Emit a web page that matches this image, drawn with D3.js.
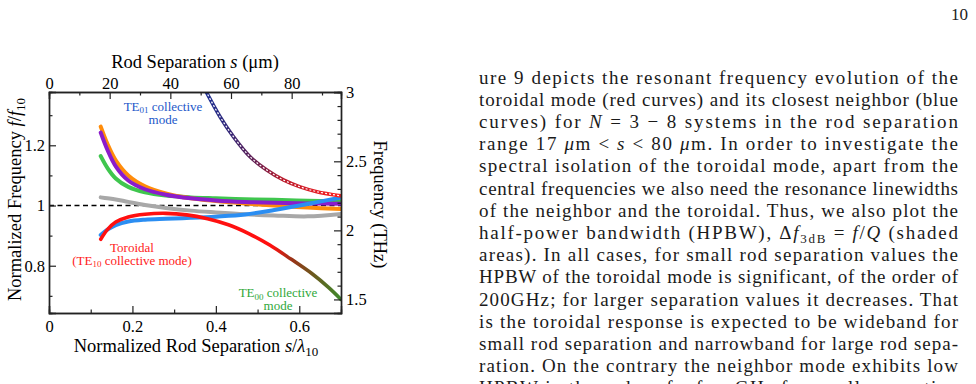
<!DOCTYPE html>
<html>
<head>
<meta charset="utf-8">
<script src="https://cdn.jsdelivr.net/npm/d3@7"></script>
<style>
  body { margin: 0; background: #fff; }
  svg text { font-family: "Liberation Serif", "Times New Roman", serif; }
</style>
</head>
<body>
<svg id="page" width="976" height="384"></svg>
<script>
// normalized rod separation s/lambda10 where the N = 3..8 curves were read
var sepBundle = [0.124, 0.14, 0.16, 0.19, 0.23, 0.28, 0.34, 0.40, 0.47, 0.54, 0.62, 0.70]
var freqOrange = [1.262, 1.205, 1.150, 1.100, 1.064, 1.040, 1.024, 1.015, 1.007, 1.000, 0.993, 0.988]
var freqPurple = [1.242, 1.185, 1.130, 1.083, 1.054, 1.036, 1.024, 1.017, 1.012, 1.009, 1.007, 1.006]
var freqGreen  = [1.164, 1.125, 1.090, 1.062, 1.044, 1.033, 1.027, 1.024, 1.021, 1.019, 1.016, 1.014]
var freqGray   = [1.027, 1.024, 1.020, 1.012, 1.002, 0.992, 0.983, 0.977, 0.971, 0.967, 0.964, 0.972]
var freqBlue   = [0.902, 0.920, 0.935, 0.947, 0.953, 0.956, 0.959, 0.963, 0.970, 0.985, 1.005, 1.027]

// toroidal (TE10) mode, turning into TE00 at large separation
var sepToroidal  = [0.124, 0.14, 0.16, 0.19, 0.23, 0.28, 0.33, 0.38, 0.43, 0.48, 0.53, 0.58, 0.63, 0.67, 0.70]
var freqToroidal = [0.888, 0.920, 0.945, 0.962, 0.971, 0.974, 0.969, 0.956, 0.936, 0.906, 0.868, 0.822, 0.774, 0.728, 0.688]

// TE01 collective mode (dashed)
var sepTE01  = [0.376, 0.41, 0.442, 0.482, 0.522, 0.562, 0.602, 0.642, 0.70]
var freqTE01 = [1.380, 1.295, 1.229, 1.162, 1.118, 1.085, 1.062, 1.046, 1.032]

var f10 = 2.18                // THz
var lambda10 = 299.79 / f10   // um

var topTicks = [0, 20, 40, 60, 80]
var topMinor = [10, 30, 50, 70, 90]
var bottomTicks = [0, 0.2, 0.4, 0.6]
var bottomMinor = [0.1, 0.3, 0.5]
var leftTicks = [0.8, 1, 1.2]
var leftMinor = [0.7, 0.9, 1.1, 1.3]
var rightTicks = [1.5, 2, 2.5, 3]
var rightMinor = [1.6, 1.7, 1.8, 1.9, 2.1, 2.2, 2.3, 2.4, 2.6, 2.7, 2.8, 2.9]

var bodyLines = [
  ['ure 9 depicts the resonant frequency evolution of the'],
  ['toroidal mode (red curves) and its closest neighbor (blue'],
  ['curves) for ', ['N', 'i'], ' = 3 \u2212 8 systems in the rod separation'],
  ['range 17 ', ['\u03bc', 'i'], 'm < ', ['s', 'i'], ' < 80 ', ['\u03bc', 'i'], 'm. In order to investigate the'],
  ['spectral isolation of the toroidal mode, apart from the'],
  ['central frequencies we also need the resonance linewidths'],
  ['of the neighbor and the toroidal. Thus, we also plot the'],
  ['half-power bandwidth (HPBW), \u0394', ['f', 'i'], ['3dB', 'sub'], ' = ', ['f', 'i'], '/', ['Q', 'i'], ' (shaded'],
  ['areas). In all cases, for small rod separation values the'],
  ['HPBW of the toroidal mode is significant, of the order of'],
  ['200GHz; for larger separation values it decreases. That'],
  ['is the toroidal response is expected to be wideband for'],
  ['small rod separation and narrowband for large rod sepa-'],
  ['ration. On the contrary the neighbor mode exhibits low'],
  ['HPBW in the order of a few GHz for small separation']
]

var serif = '"Liberation Serif", "Times New Roman", serif'

var svg = d3.select('#page')
svg.append('rect').attr('width', 976).attr('height', 384).attr('fill', '#fff')

var margin = { left: 49, right: 341, top: 92, bottom: 313 }

var x = d3.scaleLinear().domain([0, 0.7]).range([margin.left, margin.right])
var xTop = d3.scaleLinear().domain([0, 0.7 * lambda10]).range([margin.left, margin.right])
var y = d3.scaleLinear().domain([0.643, 1.377]).range([margin.bottom, margin.top])
var yRight = d3.scaleLinear().domain([0.643 * f10, 1.377 * f10]).range([margin.bottom, margin.top])

var defs = svg.append('defs')
defs.append('clipPath').attr('id', 'plotClip')
  .append('rect')
  .attr('x', margin.left).attr('y', margin.top)
  .attr('width', margin.right - margin.left).attr('height', margin.bottom - margin.top)

function gradient(id, stops) {
  var g = defs.append('linearGradient').attr('id', id)
    .attr('gradientUnits', 'userSpaceOnUse')
    .attr('x1', margin.left).attr('x2', margin.right).attr('y1', 0).attr('y2', 0)
  stops.forEach(s => {
    g.append('stop')
      .attr('offset', (s[0] - margin.left) / (margin.right - margin.left))
      .attr('stop-color', s[1])
  })
}
gradient('gradToroidal', [[272, '#ff1010'], [292, '#9a3418'], [314, '#6a5a1e'], [341, '#3e8a2c']])
gradient('gradTE01', [[206, '#1c2e92'], [228, '#33287a'], [255, '#652052'], [282, '#b81a2c'], [341, '#ff2222']])

var line = d3.line()
  .x(d => x(d[0]))
  .y(d => y(d[1]))
  .curve(d3.curveCatmullRom.alpha(0.5))

var plot = svg.append('g').attr('clip-path', 'url(#plotClip)')

// reference line f = f10
plot.append('line')
  .attr('x1', x(0)).attr('x2', x(0.7))
  .attr('y1', y(1)).attr('y2', y(1))
  .attr('stroke', '#000').attr('stroke-width', 1.5)
  .attr('stroke-dasharray', '5,3.5')

var bundle = [
  { vals: freqGray, color: '#a8a8a8' },
  { vals: freqGreen, color: '#3fc64e' },
  { vals: freqOrange, color: '#ff8c0a' },
  { vals: freqPurple, color: '#8b1ccb' },
  { vals: freqBlue, color: '#2b8ef2' }
]
bundle.forEach(b => {
  plot.append('path')
    .attr('d', line(d3.zip(sepBundle, b.vals)))
    .attr('fill', 'none')
    .attr('stroke', b.color)
    .attr('stroke-width', 4)
    .attr('stroke-linecap', 'round')
})

plot.append('path')
  .attr('d', line(d3.zip(sepToroidal, freqToroidal)))
  .attr('fill', 'none')
  .attr('stroke', 'url(#gradToroidal)')
  .attr('stroke-width', 3.6)
  .attr('stroke-linecap', 'round')

var te01 = line(d3.zip(sepTE01, freqTE01))
plot.append('path')
  .attr('d', te01)
  .attr('fill', 'none')
  .attr('stroke', 'url(#gradTE01)')
  .attr('stroke-width', 3.6)
plot.append('path')
  .attr('d', te01)
  .attr('fill', 'none')
  .attr('stroke', '#fff')
  .attr('stroke-width', 1.2)
  .attr('stroke-dasharray', '2,2')

// ****************** axes ***************************
function styleAxis(g) {
  g.selectAll('path.domain').attr('stroke', '#222').attr('stroke-width', 1.4)
  g.selectAll('.tick line').attr('stroke', '#222').attr('stroke-width', 1.2)
  g.selectAll('text').attr('font-size', '16.5px').attr('fill', '#000')
    .attr('font-family', serif)
}

var fmt = d => d3.format('')(d)

svg.append('g').attr('transform', 'translate(0,' + margin.bottom + ')')
  .call(d3.axisBottom(x).tickValues(bottomMinor).tickSize(-3.5).tickFormat(''))
  .call(styleAxis)
svg.append('g').attr('transform', 'translate(0,' + margin.bottom + ')')
  .call(d3.axisBottom(x).tickValues(bottomTicks).tickSize(-7).tickPadding(7).tickFormat(fmt))
  .call(styleAxis)

svg.append('g').attr('transform', 'translate(0,' + margin.top + ')')
  .call(d3.axisTop(xTop).tickValues(topMinor).tickSize(-3.5).tickFormat(''))
  .call(styleAxis)
svg.append('g').attr('transform', 'translate(0,' + margin.top + ')')
  .call(d3.axisTop(xTop).tickValues(topTicks).tickSize(-7).tickPadding(3).tickFormat(fmt))
  .call(styleAxis)

svg.append('g').attr('transform', 'translate(' + margin.left + ',0)')
  .call(d3.axisLeft(y).tickValues(leftMinor).tickSize(-3.5).tickFormat(''))
  .call(styleAxis)
svg.append('g').attr('transform', 'translate(' + margin.left + ',0)')
  .call(d3.axisLeft(y).tickValues(leftTicks).tickSize(-7).tickPadding(4).tickFormat(fmt))
  .call(styleAxis)

svg.append('g').attr('transform', 'translate(' + margin.right + ',0)')
  .call(d3.axisRight(yRight).tickValues(rightMinor).tickSize(-3.5).tickFormat(''))
  .call(styleAxis)
svg.append('g').attr('transform', 'translate(' + margin.right + ',0)')
  .call(d3.axisRight(yRight).tickValues(rightTicks).tickSize(-7).tickPadding(5).tickFormat(fmt))
  .call(styleAxis)

// ****************** titles ***************************
// parts: plain strings, ['x','i'] for italic, ['x','sub'] for subscript
function richText(sel, parts, subSize, shift) {
  var back = 0
  parts.forEach(p => {
    var t = sel.append('tspan')
    if (back) { t.attr('dy', -back); back = 0 }
    if (typeof p === 'string') { t.text(p); return }
    t.text(p[0])
    if (p[1] === 'i') t.attr('font-style', 'italic')
    if (p[1] === 'sub') {
      t.attr('font-size', subSize).attr('dy', shift)
      back = shift
    }
  })
  return sel
}

var cx = (margin.left + margin.right) / 2
richText(svg.append('text').attr('x', cx).attr('y', 68)
  .attr('text-anchor', 'middle').attr('font-size', '18.5px'),
  ['Rod Separation ', ['s', 'i'], ' (\u03bcm)'], '13px', 4)

richText(svg.append('text').attr('x', cx + 1).attr('y', 352)
  .attr('text-anchor', 'middle').attr('font-size', '18.5px'),
  ['Normalized Rod Separation ', ['s', 'i'], '/', ['\u03bb', 'i'], ['10', 'sub']], '13px', 4)

richText(svg.append('text')
  .attr('transform', 'translate(21,' + ((margin.top + margin.bottom) / 2 - 3) + ') rotate(-90)')
  .attr('text-anchor', 'middle').attr('font-size', '18.5px'),
  ['Normalized Frequency ', ['f', 'i'], '/', ['f', 'i'], ['10', 'sub']], '13px', 4)

svg.append('text')
  .attr('transform', 'translate(374,' + ((margin.top + margin.bottom) / 2 + 2) + ') rotate(90)')
  .attr('text-anchor', 'middle').attr('font-size', '18.5px')
  .text('Frequency (THz)')

// ****************** annotations ***************************
function note(xc, yb, lines, color) {
  lines.forEach((l, i) => {
    richText(svg.append('text').attr('x', xc).attr('y', yb + i * 13)
      .attr('text-anchor', 'middle').attr('font-size', '13px').attr('fill', color), l, '9px', 2.5)
  })
}
note(163, 110.5, [['TE', ['01', 'sub'], ' collective'], ['mode']], '#2257c9')
note(132, 251.5, [['Toroidal'], ['(TE', ['10', 'sub'], ' collective mode)']], '#ff1a1a')
note(278, 297, [['TE', ['00', 'sub'], ' collective'], ['mode']], '#2fa83a')

// ****************** page text ***************************
svg.append('text').attr('x', 968).attr('y', 20)
  .attr('text-anchor', 'end').attr('font-size', '17px').attr('fill', '#222')
  .attr('font-family', serif)
  .text('10')

bodyLines.forEach((parts, i) => {
  var t = svg.append('text')
    .attr('x', 479).attr('y', 83.5 + i * 22.2)
    .attr('font-family', serif)
    .attr('font-size', '19px').attr('fill', '#1a1a1a')
    .attr('textLength', 479).attr('lengthAdjust', 'spacing')
  richText(t, parts, '13px', 4)
})
</script>
</body>
</html>
